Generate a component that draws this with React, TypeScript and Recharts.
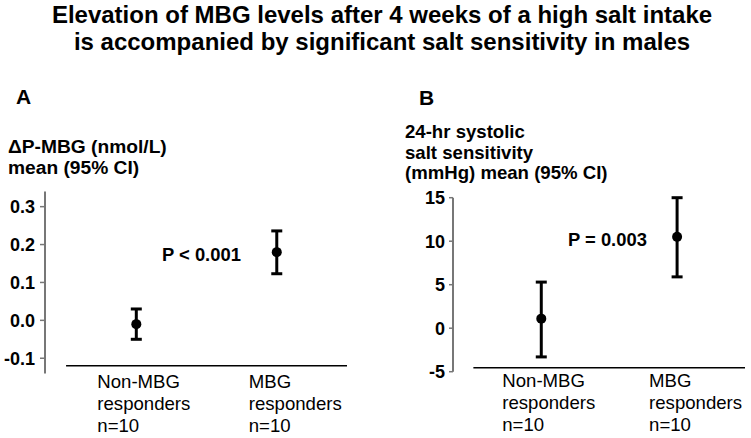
import React from "react";
import {
  LineChart,
  Line,
  XAxis,
  YAxis,
  ErrorBar,
  ReferenceLine,
} from "recharts";

// categories and their printed labels
const categories = ["Non-MBG responders", "MBG responders"];
const categoryLabels = [
  ["Non-MBG", "responders", "n=10"],
  ["MBG", "responders", "n=10"],
];

// panel A: change in plasma MBG, mean and 95% CI
const mbgMean = [-0.01, 0.18];
const mbgLower = [-0.05, 0.123];
const mbgUpper = [0.03, 0.236];
const mbgTicks = [-0.1, 0, 0.1, 0.2, 0.3];

// panel B: 24-hr systolic salt sensitivity, mean and 95% CI
const ssMean = [1.1, 10.5];
const ssLower = [-3.3, 5.9];
const ssUpper = [5.3, 15];
const ssTicks = [-5, 0, 5, 10, 15];

const FONT = "'Liberation Sans', Arial, Helvetica, sans-serif";

const buildRows = (mean: number[], lower: number[], upper: number[]) =>
  categories.map((name, i) => ({
    name,
    pos: i + 1,
    mean: mean[i],
    err: [mean[i] - lower[i], upper[i] - mean[i]],
  }));

const CategoryTick = (props: any) => {
  const { x, y, payload } = props;
  const idx = Math.round(payload.value) - 1;
  const lines = categoryLabels[idx];
  if (!lines) return null;
  const shift = idx === 0 ? -39 : -28;
  return (
    <g>
      {lines.map((t, k) => (
        <text
          key={k}
          x={x + shift}
          y={y + 15 + k * 22}
          fontSize={18.6}
          fontFamily={FONT}
          fill="#000"
          textAnchor="start"
        >
          {t}
        </text>
      ))}
    </g>
  );
};

interface PanelProps {
  rows: any[];
  width: number;
  height: number;
  yDomain: [number, number];
  ticks: number[];
  fmt: (v: number) => string;
  axisY: number;
  margin: { top: number; right: number; bottom: number; left: number };
  yWidth: number;
  tickSize: number;
}

const Panel = ({ rows, width, height, yDomain, ticks, fmt, axisY, margin, yWidth, tickSize }: PanelProps) => (
  <LineChart width={width} height={height} data={rows} margin={margin}>
    <XAxis
      type="number"
      dataKey="pos"
      domain={[0.35, 2.5]}
      ticks={[1, 2]}
      axisLine={false}
      tickLine={false}
      tickSize={0}
      tickMargin={0}
      height={60}
      tick={<CategoryTick />}
      allowDataOverflow
    />
    <YAxis
      type="number"
      domain={yDomain}
      ticks={ticks}
      width={yWidth}
      tickFormatter={fmt}
      tickSize={tickSize}
      tickMargin={tickSize}
      axisLine={{ stroke: "#777", strokeWidth: 2 }}
      tickLine={{ stroke: "#777", strokeWidth: 1.5 }}
      tick={{ fill: "#000", fontSize: 18, fontWeight: "bold", fontFamily: FONT }}
      allowDataOverflow
      interval={0}
    />
    <ReferenceLine
      segment={[
        { x: 0.5, y: axisY },
        { x: 2.5, y: axisY },
      ]}
      stroke="#000"
      strokeWidth={1.5}
      ifOverflow="visible"
    />
    <Line
      dataKey="mean"
      stroke="none"
      isAnimationActive={false}
      activeDot={false}
      dot={{ r: 5, fill: "#000", stroke: "#000", strokeWidth: 0 }}
    >
      <ErrorBar dataKey="err" direction="y" width={5.5} strokeWidth={3} stroke="#000" isAnimationActive={false} />
    </Line>
  </LineChart>
);

export default function App() {
  const rowsA = buildRows(mbgMean, mbgLower, mbgUpper);
  const rowsB = buildRows(ssMean, ssLower, ssUpper);
  const bold = { fontFamily: FONT, fontWeight: "bold" as const, fill: "#000" };

  return (
    <div
      style={{
        position: "absolute",
        left: 0,
        top: 0,
        width: 751,
        height: 438,
        background: "#fff",
        fontFamily: FONT,
        overflow: "hidden",
      }}
    >
      <div style={{ position: "absolute", left: 0, top: 0 }}>
        <Panel
          rows={rowsA}
          width={370}
          height={438}
          yDomain={[-0.14, 0.34]}
          ticks={mbgTicks}
          fmt={(v) => v.toFixed(1)}
          axisY={-0.12}
          margin={{ top: 191.5, right: 23, bottom: 4.6, left: 0 }}
          yWidth={45}
          tickSize={5}
        />
      </div>
      <div style={{ position: "absolute", left: 376, top: 0 }}>
        <Panel
          rows={rowsB}
          width={375}
          height={438}
          yDomain={[-5, 15]}
          ticks={ssTicks}
          fmt={(v) => String(v)}
          axisY={-4.55}
          margin={{ top: 197.7, right: 6, bottom: 6.3, left: 30 }}
          yWidth={47}
          tickSize={4}
        />
      </div>
      <svg
        width={751}
        height={438}
        style={{ position: "absolute", left: 0, top: 0, pointerEvents: "none" }}
      >
        <text x={382} y={23} textAnchor="middle" fontSize={24} {...bold}>
          Elevation of MBG levels after 4 weeks of a high salt intake
        </text>
        <text x={382} y={50} textAnchor="middle" fontSize={24} {...bold}>
          is accompanied by significant salt sensitivity in males
        </text>
        <text x={16} y={104} fontSize={21} {...bold}>A</text>
        <text x={419} y={105} fontSize={21} {...bold}>B</text>
        <text x={8} y={153} fontSize={19.2} {...bold}>ΔP-MBG (nmol/L)</text>
        <text x={8} y={174} fontSize={19.2} {...bold}>mean (95% CI)</text>
        <text x={405} y={138} fontSize={18.6} {...bold}>24-hr systolic</text>
        <text x={405} y={159} fontSize={18.6} {...bold}>salt sensitivity</text>
        <text x={405} y={179} fontSize={18.6} {...bold}>(mmHg) mean (95% CI)</text>
        <text x={162} y={261} fontSize={18.4} {...bold}>P &lt; 0.001</text>
        <text x={568} y={246} fontSize={18.4} {...bold}>P = 0.003</text>
      </svg>
    </div>
  );
}
